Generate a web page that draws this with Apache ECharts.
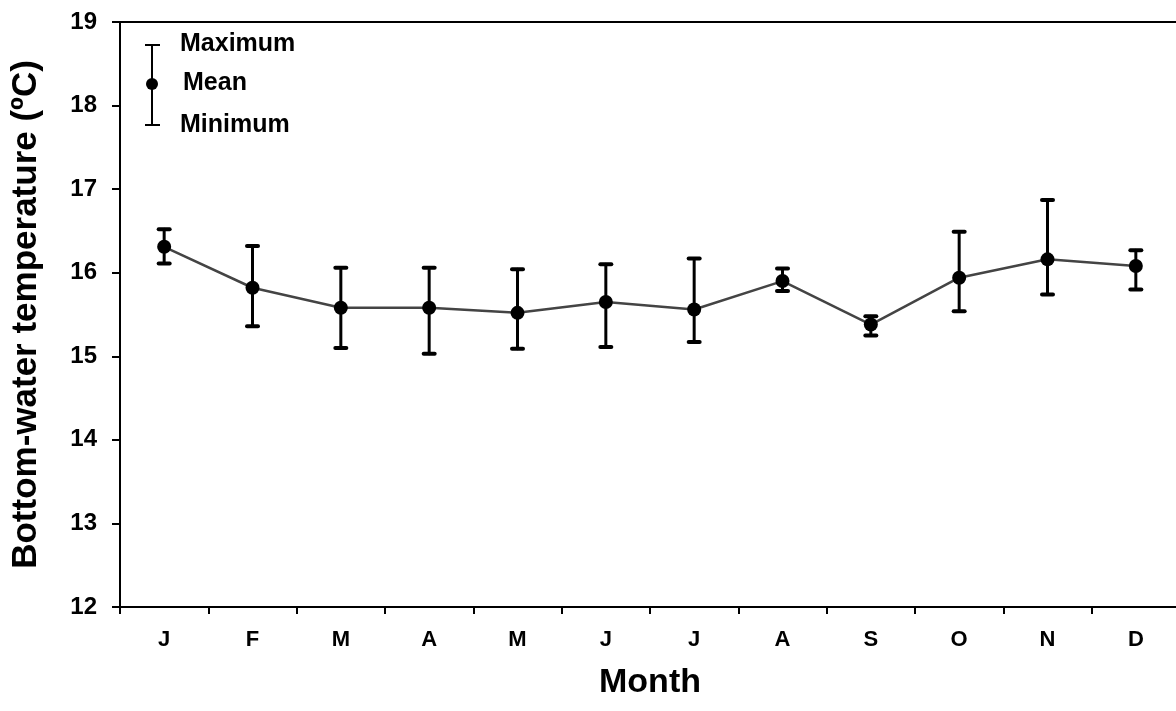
<!DOCTYPE html>
<html>
<head>
<meta charset="utf-8">
<script src="https://cdn.jsdelivr.net/npm/echarts@6/dist/echarts.min.js"></script>
<style>
html,body{margin:0;padding:0;background:#fff;overflow:hidden;}
#chart{width:1180px;height:711px;}
</style>
</head>
<body>
<div id="chart"></div>
<script>
var months = ['J','F','M','A','M','J','J','A','S','O','N','D'];
var meanTemp = [16.31,15.82,15.58,15.58,15.52,15.65,15.56,15.90,15.38,15.94,16.16,16.08];
var maxTemp  = [16.52,16.32,16.06,16.06,16.04,16.10,16.17,16.05,15.48,16.49,16.87,16.27];
var minTemp  = [16.11,15.36,15.10,15.03,15.09,15.11,15.17,15.78,15.25,15.54,15.74,15.80];
var yTicks = [12,13,14,15,16,17,18,19];
var legendLabels = ['Maximum','Mean','Minimum'];

var FONT = "'Liberation Sans', Arial, sans-serif";
var errData = months.map(function(m,i){ return [i, minTemp[i], maxTemp[i]]; });

var chart = echarts.init(document.getElementById('chart'), null, {renderer:'canvas'});
chart.setOption({
  animation:false,
  backgroundColor:'#fff',
  grid:{left:120, right:0, top:22, bottom:104, show:true, borderColor:'#000', borderWidth:2, backgroundColor:'transparent'},
  xAxis:{
    type:'category', data:months, boundaryGap:true,
    axisLine:{lineStyle:{color:'#000', width:2}},
    axisTick:{show:true, alignWithLabel:false, length:7, lineStyle:{color:'#000', width:2}},
    axisLabel:{color:'#000', fontFamily:FONT, fontWeight:'bold', fontSize:22, margin:22},
    name:'Month', nameLocation:'middle', nameGap:59,
    nameTextStyle:{color:'#000', fontFamily:FONT, fontWeight:'bold', fontSize:34},
    splitLine:{show:false}
  },
  yAxis:{
    type:'value', min:yTicks[0], max:yTicks[yTicks.length-1], interval:1,
    axisLine:{show:true, lineStyle:{color:'#000', width:2}},
    axisTick:{show:true, length:8, lineStyle:{color:'#000', width:2}},
    axisLabel:{color:'#000', fontFamily:FONT, fontWeight:'bold', fontSize:24, margin:23},
    name:'Bottom-water temperature (ºC)', nameLocation:'middle', nameGap:76,
    nameTextStyle:{color:'#000', fontFamily:FONT, fontWeight:'bold', fontSize:35},
    splitLine:{show:false}
  },
  series:[
    {
      type:'line', data:meanTemp, symbol:'none', z:2,
      lineStyle:{color:'#444', width:2.5}
    },
    {
      type:'custom', z:3, data:errData,
      renderItem:function(params, api){
        var x = api.value(0);
        var lo = api.coord([x, api.value(1)]);
        var hi = api.coord([x, api.value(2)]);
        var cw = 7.5;
        var st = {stroke:'#000', lineWidth:3, lineCap:'round'};
        var cs = {stroke:'#000', lineWidth:4, lineCap:'round'};
        return {type:'group', children:[
          {type:'line', shape:{x1:hi[0], y1:hi[1], x2:lo[0], y2:lo[1]}, style:st},
          {type:'line', shape:{x1:hi[0]-cw+2, y1:hi[1], x2:hi[0]+cw-2, y2:hi[1]}, style:cs},
          {type:'line', shape:{x1:lo[0]-cw+2, y1:lo[1], x2:lo[0]+cw-2, y2:lo[1]}, style:cs}
        ]};
      }
    },
    {
      type:'scatter', data:meanTemp, symbol:'circle', symbolSize:14, z:4,
      itemStyle:{color:'#000', opacity:1}
    }
  ],
  graphic:[
    {type:'line', shape:{x1:152, y1:45, x2:152, y2:125}, style:{stroke:'#000', lineWidth:2}},
    {type:'line', shape:{x1:145, y1:45, x2:160, y2:45}, style:{stroke:'#000', lineWidth:2}},
    {type:'line', shape:{x1:145, y1:125, x2:160, y2:125}, style:{stroke:'#000', lineWidth:2}},
    {type:'circle', shape:{cx:152, cy:84, r:6}, style:{fill:'#000'}},
    {type:'text', left:180, top:32, style:{text:legendLabels[0], fill:'#000', font:'bold 25px '+FONT}},
    {type:'text', left:183, top:71, style:{text:legendLabels[1], fill:'#000', font:'bold 25px '+FONT}},
    {type:'text', left:180, top:113, style:{text:legendLabels[2], fill:'#000', font:'bold 25px '+FONT}}
  ]
});
</script>
</body>
</html>
